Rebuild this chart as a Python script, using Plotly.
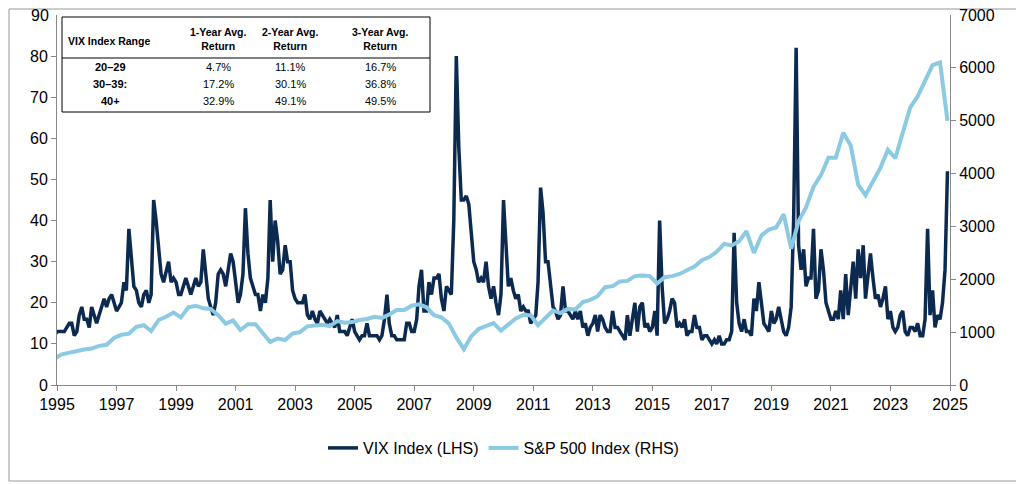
import plotly.graph_objects as go
import pandas as pd

vix = [13,12,12,12,13,13,13,13,14,15,15,12,
13,17,19,16,16,14,19,17,15,17,19,21,
19,21,22,20,18,19,20,25,23,38,30,24,
23,20,19,22,23,20,22,45,40,33,27,25,
28,30,25,26,25,22,22,24,26,24,22,24,
26,24,25,33,27,21,19,17,20,27,28,27,
24,28,32,30,24,20,22,27,43,32,26,24,
22,22,18,22,20,26,45,30,40,35,27,28,
34,30,30,23,21,20,20,20,22,17,16,18,
16,15,18,17,16,15,16,15,14,17,13,13,
13,12,14,16,13,12,11,12,12,15,12,12,
12,12,11,12,16,22,15,12,12,11,11,11,
11,15,15,13,13,16,24,28,18,18,25,22,
26,26,27,21,18,24,23,22,40,80,58,45,
45,46,44,37,30,28,25,26,25,30,24,21,
24,20,17,22,45,34,24,26,23,21,22,18,
19,18,18,15,16,17,25,48,42,30,30,24,
19,18,16,17,24,18,18,17,16,18,16,18,
14,15,12,14,15,17,13,17,16,14,13,13,
18,14,14,13,12,11,17,12,16,20,13,19,
20,14,15,13,14,18,12,40,24,15,16,18,
21,20,14,15,14,16,12,13,13,17,14,14,
11,12,12,11,10,11,10,12,10,10,11,11,
13,37,20,15,13,16,13,13,12,21,18,25,
19,15,14,13,18,15,16,19,16,13,12,14,
19,40,82,34,28,33,24,26,26,38,21,23,
33,28,20,18,16,16,18,16,23,16,27,17,
25,30,21,33,26,34,21,26,32,26,21,22,
19,21,24,16,18,14,13,14,17,18,13,12,
14,14,13,15,12,12,16,38,17,23,14,17,
16,20,28,52]
# the reference's time axis sits about four months earlier than calendar dates
vix_dates = pd.date_range("1994-09-01", periods=len(vix), freq="MS")

spx = [470,500,580,615, 650,670,690,740, 760,890,950,970, 1100,1130,1020,1230,
1290,1370,1280,1470, 1500,1450,1440,1320, 1160,1220,1040,1150, 1150,990,815,880,
850,975,1000,1110, 1125,1140,1115,1210, 1180,1190,1230,1250, 1290,1270,1335,1420,
1420,1500,1525,1470, 1320,1280,1165,900, 680,920,1060,1115, 1170,1030,1140,1260,
1325,1320,1130,1260, 1410,1360,1440,1430, 1570,1610,1680,1850, 1870,1960,1970,2060,
2070,2060,1920,2040, 2060,2100,2170,2240, 2360,2420,2520,2670, 2640,2720,2910,2500,
2830,2940,2980,3230, 2580,3100,3360,3750, 3970,4300,4300,4770, 4530,3790,3590,3840,
4110,4450,4290,4770, 5250,5460,5760,6050, 6100,5000]
spx_dates = pd.date_range("1994-09-01", periods=len(spx), freq="QS-SEP")

headers = ["VIX Index Range", "1-Year Avg.<br>Return", "2-Year Avg.<br>Return", "3-Year Avg.<br>Return"]
ranges = ["20–29", "30–39:", "40+"]
r1 = ["4.7%", "17.2%", "32.9%"]
r2 = ["11.1%", "30.1%", "49.1%"]
r3 = ["16.7%", "36.8%", "49.5%"]

VIXC = "#0c2a50"; SPC = "#8cc9e3"
fig = go.Figure()
fig.add_trace(go.Scatter(x=spx_dates, y=spx, name="S&P 500 Index (RHS)", yaxis="y2",
                         line=dict(color=SPC, width=4)))
fig.add_trace(go.Scatter(x=vix_dates, y=vix, name="VIX Index (LHS)",
                         line=dict(color=VIXC, width=3.5)))

OFF = 8
W, H = 1016, 476
L, T = 57 - OFF, 15 - OFF
R = W - (950 - OFF)
B = H - (385 - OFF)
pw, ph = W - L - R, H - T - B
def px(x): return (x - OFF - L) / pw
def py(y): return (H - B - (y - OFF)) / ph

shapes = [dict(type="rect", xref="paper", yref="paper", x0=px(9), x1=px(1021), y0=py(481), y1=py(9),
               line=dict(color="#999", width=1)),
          dict(type="rect", xref="paper", yref="paper", x0=px(62), x1=px(430), y0=py(112), y1=py(17),
               line=dict(color="black", width=1), fillcolor="white"),
          dict(type="line", xref="paper", yref="paper", x0=px(62), x1=px(430), y0=py(58), y1=py(58),
               line=dict(color="black", width=1))]
ann = []
cols = [(66, "left"), (218, "center"), (290, "center"), (380, "center")]
for i, h in enumerate(headers):
    x, a = cols[i]
    ann.append(dict(x=px(x), y=py(41 if i == 0 else 39), xref="paper", yref="paper", text="<b>%s</b>" % h,
                    showarrow=False, xanchor=a, yanchor="middle", font=dict(size=10.5, color="black")))
for j in range(3):
    yy = py(67 + 17 * j)
    for i, t in enumerate(["<b>%s</b>" % ranges[j], r1[j], r2[j], r3[j]]):
        x, a = cols[i]
        if i == 0: x = 110; a = "center"
        ann.append(dict(x=px(x), y=yy, xref="paper", yref="paper", text=t, showarrow=False,
                        xanchor=a, yanchor="middle", font=dict(size=11, color="black")))
# top axis labels, which would otherwise be dropped at the figure edge
ann.append(dict(x=px(51), y=py(15), xref="paper", yref="paper", text="90", showarrow=False,
                xanchor="right", yanchor="middle", font=dict(size=16, color="black")))
ann.append(dict(x=px(957), y=py(15), xref="paper", yref="paper", text="7000", showarrow=False,
                xanchor="left", yanchor="middle", font=dict(size=16, color="black")))

fig.update_layout(
    width=W, height=H, margin=dict(l=L, r=R, t=T, b=B, autoexpand=False),
    paper_bgcolor="white", plot_bgcolor="white",
    font=dict(family="Liberation Sans, Arial", size=16, color="black"),
    xaxis=dict(range=["1995-01-01", "2025-01-01"], tickvals=[f"{y}-01-01" for y in range(1995, 2026, 2)],
               ticktext=[str(y) for y in range(1995, 2026, 2)], showgrid=False,
               showline=True, linecolor="#888", ticks="outside", ticklen=5, tickcolor="#888"),
    yaxis=dict(range=[0, 90], tickvals=list(range(0, 90, 10)), showgrid=False, showline=True, linecolor="#888",
               ticks="outside", tickcolor="#888"),
    yaxis2=dict(range=[0, 7000], tickvals=list(range(0, 7000, 1000)), overlaying="y", side="right", showgrid=False,
                showline=True, linecolor="#888", ticks="outside", tickcolor="#888"),
    legend=dict(orientation="h", x=0.5, xanchor="center", y=py(448), yanchor="middle",
                traceorder="reversed", font=dict(size=16)),
    shapes=shapes, annotations=ann, showlegend=True)
fig.write_html("out.html")
